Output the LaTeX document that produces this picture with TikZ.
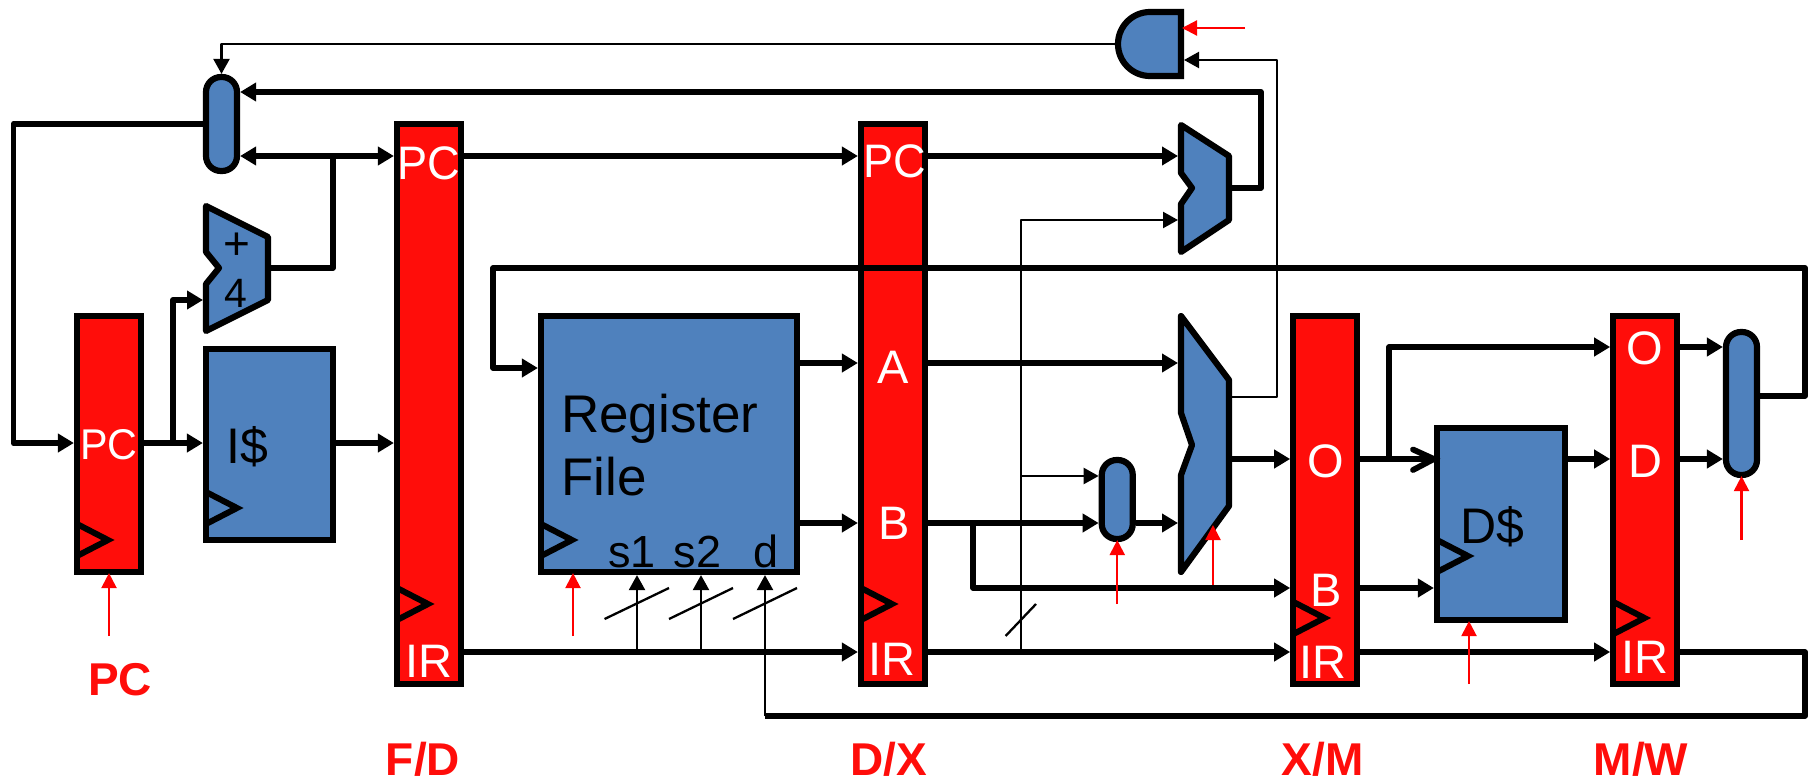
\documentclass[tikz,border=0pt]{standalone}
\usepackage{fontspec}
\setmainfont{Liberation Sans}
\usetikzlibrary{arrows.meta}
\definecolor{rfill}{HTML}{FF0D0A}
\definecolor{bfill}{HTML}{4F81BD}
\definecolor{redline}{HTML}{FF0000}
\newcommand{\fs}[1]{\fontsize{#1}{#1}\selectfont}
\newcommand{\nx}[1]{\scalebox{.96}[1]{#1}}
\newcommand{\clk}[2]{\draw[clockmark] (#1,#2-16) -- (#1+31,#2) -- (#1,#2+16);}
\tikzset{
  x=1pt,y=-1pt,
  outl/.style={draw=black,line width=6.2pt},
  regbox/.style={outl,fill=rfill,rectangle,inner sep=0pt,outer sep=3.1pt},
  bluebox/.style={outl,fill=bfill,rectangle,inner sep=0pt,outer sep=3.1pt},
  pill/.style={outl,fill=bfill,rectangle,inner sep=0pt,outer sep=3.1pt,rounded corners=15pt},
  muxshape/.style={outl,fill=bfill,line join=round},
  clockmark/.style={draw=black,line width=6pt,line join=miter},
  hline/.style={draw=black,line width=5.8pt,line join=round},
  wire/.style={hline,-{Triangle[length=16pt,width=18pt]}},
  fine/.style={draw=black,line width=2.3pt,line join=round},
  finewire/.style={fine,-{Triangle[length=15pt,width=16pt]}},
  redwire/.style={draw=redline,line width=2.3pt,shorten >=-2pt,-{Triangle[length=15pt,width=15pt]}},
  wlab/.style={text=white,font=\fs{47},inner sep=0pt,anchor=base},
  blab/.style={text=black,font=\fs{50},inner sep=0pt,anchor=base},
  slab/.style={text=black,font=\fs{45},inner sep=0pt,anchor=base},
  rlab/.style={text=rfill,font=\bfseries\fs{46},inner sep=0pt,anchor=base},
}
\begin{document}
\begin{tikzpicture}
\useasboundingbox (0,0) rectangle (1812,779);
% level and bend coordinates
\coordinate (yFb) at (0,92);
\coordinate (yNext) at (0,156);
\coordinate (yFetch) at (0,443);
\coordinate (yA) at (0,363);
\coordinate (yB) at (0,523);
\coordinate (yO) at (0,459);
\coordinate (yBm) at (0,588);
\coordinate (yOm) at (0,347);
\coordinate (yIR) at (0,652);

\coordinate (imX) at (1021,652);
\coordinate (brIn2) at (1178,220);
\coordinate (imBend) at (1021,220);
\coordinate (imTap) at (1021,476);
\coordinate (slashA) at (1005.6,636);
\coordinate (slashB) at (1036,604);
\coordinate (sA1) at (604.6,619);\coordinate (sA2) at (669,588);
\coordinate (sB1) at (669,619);\coordinate (sB2) at (733,588);
\coordinate (sC1) at (733,619);\coordinate (sC2) at (797,588);
\coordinate (tS1) at (637,652);\coordinate (tS2) at (701,652);
\coordinate (tD) at (765,716);

% blocks
\node[regbox,minimum width=64pt,minimum height=256pt] (pc) at (109,444) {};
\node[regbox,minimum width=64pt,minimum height=560pt] (fd) at (429,404) {};
\node[regbox,minimum width=64pt,minimum height=560pt] (dx) at (893,404) {};
\node[regbox,minimum width=64pt,minimum height=368pt] (xm) at (1325.25,500) {};
\node[regbox,minimum width=64pt,minimum height=368pt] (mw) at (1645.25,500) {};
\node[bluebox,minimum width=127pt,minimum height=191pt] (ic) at (269.5,444.5) {};
\node[bluebox,minimum width=256pt,minimum height=256pt] (rf) at (669,444) {};
\node[bluebox,minimum width=128pt,minimum height=192pt] (dc) at (1501,524) {};
\node[pill,minimum width=31pt,minimum height=94pt] (pcmux) at (221.5,124) {};
\node[pill,minimum width=31pt,minimum height=79pt] (bymux) at (1117.25,499.5) {};
\node[pill,minimum width=31pt,minimum height=143pt] (wbmux) at (1741.5,403.5) {};

% adder, branch adder, ALU, gate
\draw[muxshape] (206,206) -- (268,237) -- (268,300) -- (206,331) -- (206,284) -- (219,268) -- (206,252) -- cycle;
\coordinate (addIn) at (203,300);
\coordinate (addOut) at (271,268);
\draw[muxshape] (1181,125) -- (1229,156) -- (1229,220) -- (1181,252) -- (1181,204) -- (1192,188) -- (1181,173) -- cycle;
\coordinate (brIn1) at (1178,156);
\coordinate (brOut) at (1232,188);
\draw[muxshape] (1181,316) -- (1229,380) -- (1229,506) -- (1181,572) -- (1181,475) -- (1192,445) -- (1181,413) -- cycle;
\coordinate (aluA) at (1178,363);
\coordinate (aluB) at (1178,523);
\coordinate (aluOut) at (1232,459);
\coordinate (aluCmp) at (1232,397);
\draw[outl,fill=bfill,line join=miter] (1181,12) -- (1150,12) arc[start angle=270,end angle=90,radius=32] -- (1181,76) -- cycle;
\coordinate (gateOut) at (1115,44);
\coordinate (gateIn) at (1184,60);
\coordinate (gateCtl) at (1184,28);

% clock marks
\clk{77}{540}
\clk{206}{508}
\clk{397}{604}
\clk{541}{540}
\clk{861}{604}
\clk{1293.5}{618}
\clk{1437}{556}
\clk{1613.5}{618}

% fine wires
\coordinate (gateBend) at (221.5,44);
\draw[finewire] (gateOut) -- (gateBend) -- (pcmux.north);
\coordinate (cmpBend) at (1277,397);
\coordinate (cmpTop) at (1277,60);
\draw[finewire] (aluCmp) -- (cmpBend) -- (cmpTop) -- (gateIn);
\draw[finewire] (imX) -- (imBend) -- (brIn2);
\draw[finewire] (imTap) -- (imTap -| bymux.west);
\draw[fine] (slashA) -- (slashB);
\draw[finewire] (tS1) -- (tS1 |- rf.south);
\draw[finewire] (tS2) -- (tS2 |- rf.south);
\draw[finewire] (tD) -- (tD |- rf.south);
\draw[fine] (sA1) -- (sA2);
\draw[fine] (sB1) -- (sB2);
\draw[fine] (sC1) -- (sC2);

% thick wires
\coordinate (fbL) at (13.5,124);
\coordinate (fbB) at (13.5,443);
\draw[wire] (pcmux.west |- fbL) -- (fbL) -- (fbB) -- (pc.west |- fbB);
\draw[wire] (addOut) -- (333,268) -- (333,156) -- (fd.west |- yNext);
\draw[wire] (333,156) -- (pcmux.east |- yNext);
\draw[wire] (pc.east |- yFetch) -- (ic.west |- yFetch);
\coordinate (addTap) at (173,443);
\draw[wire] (addTap) -- (173,300) -- (addIn);
\draw[wire] (ic.east |- yFetch) -- (fd.west |- yFetch);
\draw[wire] (fd.east |- yNext) -- (dx.west |- yNext);
\draw[wire] (dx.east |- yNext) -- (brIn1);
\coordinate (brBend) at (1261,188);
\coordinate (brTop) at (1261,92);
\draw[wire] (brOut) -- (brBend) -- (brTop) -- (pcmux.east |- yFb);
\draw[wire] (fd.east |- yIR) -- (dx.west |- yIR);
\draw[wire] (dx.east |- yIR) -- (xm.west |- yIR);
\draw[wire] (xm.east |- yIR) -- (mw.west |- yIR);
\coordinate (retB) at (1805,716);
\coordinate (retT) at (1805,652);
\draw[hline] (mw.east |- yIR) -- (retT) -- (retB) -- (tD);
\draw[wire] (rf.east |- yA) -- (dx.west |- yA);
\draw[wire] (rf.east |- yB) -- (dx.west |- yB);
\draw[wire] (dx.east |- yA) -- (aluA);
\draw[wire] (dx.east |- yB) -- (bymux.west |- yB);
\draw[wire] (bymux.east |- yB) -- (aluB);
\coordinate (bTap) at (973,523);
\draw[wire] (bTap) -- (973,588) -- (xm.west |- yBm);
\draw[wire] (aluOut) -- (xm.west |- yO);
\draw[hline] (xm.east |- yO) -- (dc.west |- yO);
\coordinate (barbA) at (1413,449.5);
\coordinate (barbB) at (1413,470);
\draw[hline,line cap=round,line join=miter] (barbA) -- (dc.west |- yO) -- (barbB);
\coordinate (oTap) at (1389,459);
\draw[wire] (oTap) -- (1389,347) -- (mw.west |- yOm);
\draw[wire] (xm.east |- yBm) -- (dc.west |- yBm);
\draw[wire] (dc.east |- yO) -- (mw.west |- yO);
\draw[wire] (mw.east |- yO) -- (wbmux.west |- yO);
\draw[wire] (mw.east |- yOm) -- (wbmux.west |- yOm);
\coordinate (wbR) at (1805,396);
\coordinate (wbT) at (1805,268);
\coordinate (wbL) at (493,268);
\coordinate (wbD) at (493,368);
\draw[wire] (wbmux.east |- wbR) -- (wbR) -- (wbT) -- (wbL) -- (wbD) -- (rf.west |- wbD);

% red control arrows
\coordinate (cPc) at (109,636);
\coordinate (cRf) at (573,636);
\coordinate (cBy) at (1117.25,604);
\coordinate (cAlu) at (1213,585);
\coordinate (cAluT) at (1213,527);
\coordinate (cDc) at (1469,684);
\coordinate (cWb) at (1741.5,540);
\coordinate (cGate) at (1245,28);
\draw[redwire] (cPc) -- (pc.south);
\draw[redwire] (cRf) -- (cRf |- rf.south);
\draw[redwire] (cBy) -- (bymux.south);
\draw[redwire] (cAlu) -- (cAluT);
\draw[redwire] (cDc) -- (cDc |- dc.south);
\draw[redwire] (cWb) -- (wbmux.south);
\draw[redwire] (cGate) -- (gateCtl);

% texts
\node[wlab,font=\fs{43}] (tPc) at (109,459) {\nx{PC}};
\node[wlab] (tFdPc) at (429,179) {\nx{PC}};
\node[wlab] (tDxPc) at (895,177) {\nx{PC}};
\node[wlab] (tFdIr) at (429,677) {IR};
\node[wlab] (tDxIr) at (892,675) {IR};
\node[wlab] (tXmIr) at (1323,678) {IR};
\node[wlab] (tMwIr) at (1645,673) {IR};
\node[wlab] (tA) at (893,383) {A};
\node[wlab] (tB) at (894,539) {B};
\node[wlab] (tO) at (1326,477) {O};
\node[wlab] (tXmB) at (1326,606) {B};
\node[wlab] (tMwO) at (1645,364) {O};
\node[wlab] (tDl) at (1645,477) {D};
\node[blab] (tIc) at (247,463) {I\$};
\node[blab] (tDc) at (1492,543) {D\$};
\node[blab,font=\fs{53},anchor=base west] (tReg) at (561,432) {Register};
\node[blab,font=\fs{53},anchor=base west] (tFile) at (561,495) {File};
\node[slab] (tS1t) at (632,567) {s1};
\node[slab] (tS2t) at (697.5,567) {s2};
\node[slab] (tDt) at (766,567) {d};
\node[blab,font=\fs{46}] (tPlus) at (236.5,259) {+};
\node[blab,font=\fs{41}] (tFour) at (236,307) {4};
\node[rlab] (lPc) at (120,695) {PC};
\node[rlab] (lFd) at (423,775) {F/D};
\node[rlab] (lDx) at (889,775) {D/X};
\node[rlab] (lXm) at (1322.6,775) {X/M};
\node[rlab] (lMw) at (1641,775) {M/W};
\end{tikzpicture}
\end{document}
